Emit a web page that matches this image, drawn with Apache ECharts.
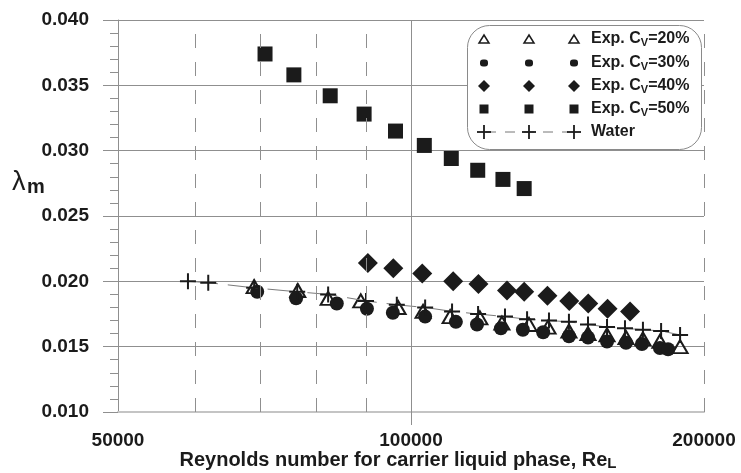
<!DOCTYPE html>
<html>
<head>
<meta charset="utf-8">
<title>Friction factor vs Reynolds number</title>
<script src="https://cdn.jsdelivr.net/npm/echarts@6/dist/echarts.min.js"></script>
<style>
html, body { margin: 0; padding: 0; background: #fff; }
#main { width: 741px; height: 473px; }
</style>
</head>
<body>
<div id="main"></div>
<script>
// Exp. Cv=20% (hollow triangles)
const re20 = [69000, 76500, 82200, 88800, 97000, 102900, 109700, 117700, 124000, 132200, 138300, 145300, 152000, 159000, 166300, 173100, 180200, 189000]
const lam20 = [0.0196, 0.0193, 0.0187, 0.0185, 0.0180, 0.0177, 0.0173, 0.0172, 0.0168, 0.0167, 0.0165, 0.0162, 0.0160, 0.0159, 0.0157, 0.0156, 0.0154, 0.0150]
// Exp. Cv=30% (dots)
const re30 = [69500, 76200, 83900, 90100, 95800, 103400, 111200, 116900, 123700, 130300, 136700, 145300, 152000, 159000, 166300, 172700, 180200, 183700]
const lam30 = [0.0192, 0.0187, 0.0183, 0.0179, 0.0176, 0.0173, 0.0169, 0.0167, 0.0164, 0.0163, 0.0161, 0.0158, 0.0157, 0.0154, 0.0153, 0.0152, 0.0149, 0.0148]
// Exp. Cv=40% (diamonds)
const re40 = [90300, 95900, 102700, 110500, 117300, 125500, 130700, 138100, 145400, 152100, 159200, 167900]
const lam40 = [0.0214, 0.0210, 0.0206, 0.0200, 0.0198, 0.0193, 0.0192, 0.0189, 0.0185, 0.0183, 0.0179, 0.0177]
// Exp. Cv=50% (squares)
const re50 = [70800, 75800, 82600, 89500, 96400, 103200, 110000, 117100, 124300, 130700]
const lam50 = [0.0374, 0.0358, 0.0342, 0.0328, 0.0315, 0.0304, 0.0294, 0.0285, 0.0278, 0.0271]
// Water
const reW = [59000, 61900, 69000, 76400, 82200, 89900, 96700, 103400, 110200, 117200, 124900, 131600, 138600, 145300, 152000, 159000, 165900, 173100, 180700, 189000]
const lamW = [0.0200, 0.0199, 0.0195, 0.0192, 0.0190, 0.0185, 0.0182, 0.0180, 0.0177, 0.0175, 0.0173, 0.0171, 0.0170, 0.0169, 0.0167, 0.0165, 0.0164, 0.0163, 0.0162, 0.0159]

const cvLabels = ['20%', '30%', '40%', '50%']
const xDashedLines = [60000, 70000, 80000, 90000, 200000]
const xSolidLines = [100000]

const FONT = '"Liberation Sans", Arial, sans-serif'
const INK = '#1b1b1b'
const GRID = '#8f8f8f'

function pairs(xs, ys) {
  return xs.map(function(x, i) { return [x, ys[i]] })
}

const plusPath = 'path://M0,7h7v-7h2v7h7v2h-7v7h-2v-7h-7z'

// excel style legend: three markers per row and the label
function legendMarker(kind, cx, cy) {
  if (kind === 'tri') {
    return { type: 'polygon', z: 11, shape: { points: [[cx, cy - 4], [cx + 5, cy + 4], [cx - 5, cy + 4]] }, style: { fill: '#fff', stroke: INK, lineWidth: 1.5 } }
  }
  if (kind === 'dot') {
    return { type: 'rect', z: 11, shape: { x: cx - 4, y: cy - 3.5, width: 8, height: 7, r: 3 }, style: { fill: INK } }
  }
  if (kind === 'dia') {
    return { type: 'polygon', z: 11, shape: { points: [[cx, cy - 6], [cx + 6, cy], [cx, cy + 6], [cx - 6, cy]] }, style: { fill: INK } }
  }
  if (kind === 'sq') {
    return { type: 'rect', z: 11, shape: { x: cx - 4.5, y: cy - 4.5, width: 9, height: 9 }, style: { fill: INK } }
  }
  return {
    type: 'group',
    z: 11,
    children: [
      { type: 'line', z: 11, shape: { x1: cx - 7, y1: cy, x2: cx + 7, y2: cy }, style: { stroke: INK, lineWidth: 1.8 } },
      { type: 'line', z: 11, shape: { x1: cx, y1: cy - 7, x2: cx, y2: cy + 7 }, style: { stroke: INK, lineWidth: 1.8 } }
    ]
  }
}

function buildLegend() {
  const kinds = ['tri', 'dot', 'dia', 'sq', 'plus']
  const rowsY = [39, 63, 86, 109, 132]
  const cols = [484, 529, 574]
  const els = []
  els.push({ type: 'rect', z: 10, shape: { x: 467.5, y: 25.5, width: 234, height: 124, r: 22 }, style: { fill: '#fff', stroke: '#8a8a8a', lineWidth: 1 } })
  // dashed line for the water row
  els.push({ type: 'line', z: 10, shape: { x1: 486, y1: rowsY[4], x2: 568, y2: rowsY[4] }, style: { stroke: '#777', lineWidth: 1, lineDash: [10, 9] } })
  kinds.forEach(function(k, r) {
    cols.forEach(function(cx) { els.push(legendMarker(k, cx, rowsY[r])) })
    let txt = r < 4 ? '{a|Exp. C}{s|V}{a|=' + cvLabels[r] + '}' : '{a|Water}'
    els.push({
      type: 'text',
      z: 11,
      x: 591,
      y: rowsY[r] - 9,
      style: {
        text: txt,
        fill: INK,
        rich: {
          a: { fontFamily: FONT, fontWeight: 'bold', fontSize: 16, lineHeight: 18, fill: INK },
          s: { fontFamily: FONT, fontWeight: 'bold', fontSize: 11, lineHeight: 11, verticalAlign: 'bottom', fill: INK }
        }
      }
    })
  })
  // y axis title
  els.push({ type: 'text', x: 12, y: 169, style: { text: 'λ', fontFamily: FONT, fontSize: 27, fill: INK } })
  els.push({ type: 'text', x: 27, y: 177, style: { text: 'm', fontFamily: FONT, fontWeight: 'bold', fontSize: 20, fill: INK } })
  return els
}

const chart = echarts.init(document.getElementById('main'))

const mkStyle = { symbol: ['none', 'none'], silent: true, animation: false, label: { show: false } }

const option = {
  backgroundColor: '#fff',
  animation: false,
  textStyle: { fontFamily: FONT },
  grid: { left: 118, right: 37, top: 20, bottom: 61, containLabel: false, outerBoundsMode: 'none' },
  xAxis: {
    type: 'log',
    logBase: 10,
    min: 50000,
    max: 200000,
    name: '{a|Reynolds number for carrier liquid phase, Re}{s|L}',
    nameLocation: 'middle',
    nameGap: 37,
    nameMoveOverlap: false,
    nameTextStyle: {
      padding: [0, 26, 0, 0],
      rich: {
        a: { fontFamily: FONT, fontWeight: 'bold', fontSize: 20, lineHeight: 22, color: INK },
        s: { fontFamily: FONT, fontWeight: 'bold', fontSize: 15, lineHeight: 15, verticalAlign: 'bottom', color: INK }
      }
    },
    axisLine: { lineStyle: { color: '#c4c4c4', width: 2 } },
    axisTick: { show: true, customValues: xSolidLines, length: 13, lineStyle: { color: GRID } },
    axisLabel: {
      margin: 19,
      color: INK,
      fontWeight: 'bold',
      fontSize: 19,
      fontFamily: FONT,
      showMinLabel: true,
      showMaxLabel: true,
      formatter: function(v) { return String(Math.round(v)) }
    },
    splitLine: { show: false }
  },
  yAxis: {
    type: 'value',
    min: 0.010,
    max: 0.040,
    interval: 0.005,
    axisLine: { show: true, lineStyle: { color: GRID, width: 1 } },
    axisTick: { show: true, length: 15, lineStyle: { color: GRID } },
    minorTick: { show: true, splitNumber: 5, length: 8, lineStyle: { color: GRID } },
    axisLabel: {
      margin: 29,
      color: INK,
      fontWeight: 'bold',
      fontSize: 19,
      fontFamily: FONT,
      formatter: function(v) { return v.toFixed(3) }
    },
    splitLine: { show: true, lineStyle: { color: GRID, width: 1 } }
  },
  graphic: buildLegend(),
  series: [
    {
      name: 'Exp. Cv=20%',
      type: 'scatter',
      symbol: 'triangle',
      symbolSize: [15, 13],
      itemStyle: { color: 'rgba(255,255,255,0)', borderColor: INK, borderWidth: 2, opacity: 1 },
      data: pairs(re20, lam20),
      markLine: Object.assign({}, mkStyle, {
        data: xDashedLines.map(function(v) { return { xAxis: v, lineStyle: { color: GRID, width: 1, type: [14, 14] } } })
          .concat(xSolidLines.map(function(v) { return { xAxis: v, lineStyle: { color: GRID, width: 1, type: 'solid' } } }))
      })
    },
    {
      name: 'Exp. Cv=30%',
      type: 'scatter',
      symbol: 'circle',
      symbolSize: 14,
      itemStyle: { color: INK, opacity: 1 },
      data: pairs(re30, lam30)
    },
    {
      name: 'Exp. Cv=40%',
      type: 'scatter',
      symbol: 'diamond',
      symbolSize: 20,
      itemStyle: { color: INK, opacity: 1 },
      data: pairs(re40, lam40)
    },
    {
      name: 'Exp. Cv=50%',
      type: 'scatter',
      symbol: 'rect',
      symbolSize: 15,
      itemStyle: { color: INK, opacity: 1 },
      data: pairs(re50, lam50)
    },
    {
      name: 'Water',
      type: 'line',
      symbol: plusPath,
      symbolSize: 16,
      showAllSymbol: true,
      itemStyle: { color: INK, opacity: 1 },
      lineStyle: { color: '#7a7a7a', width: 1, type: [30, 10] },
      data: pairs(reW, lamW)
    }
  ]
}

chart.setOption(option)
</script>
</body>
</html>
